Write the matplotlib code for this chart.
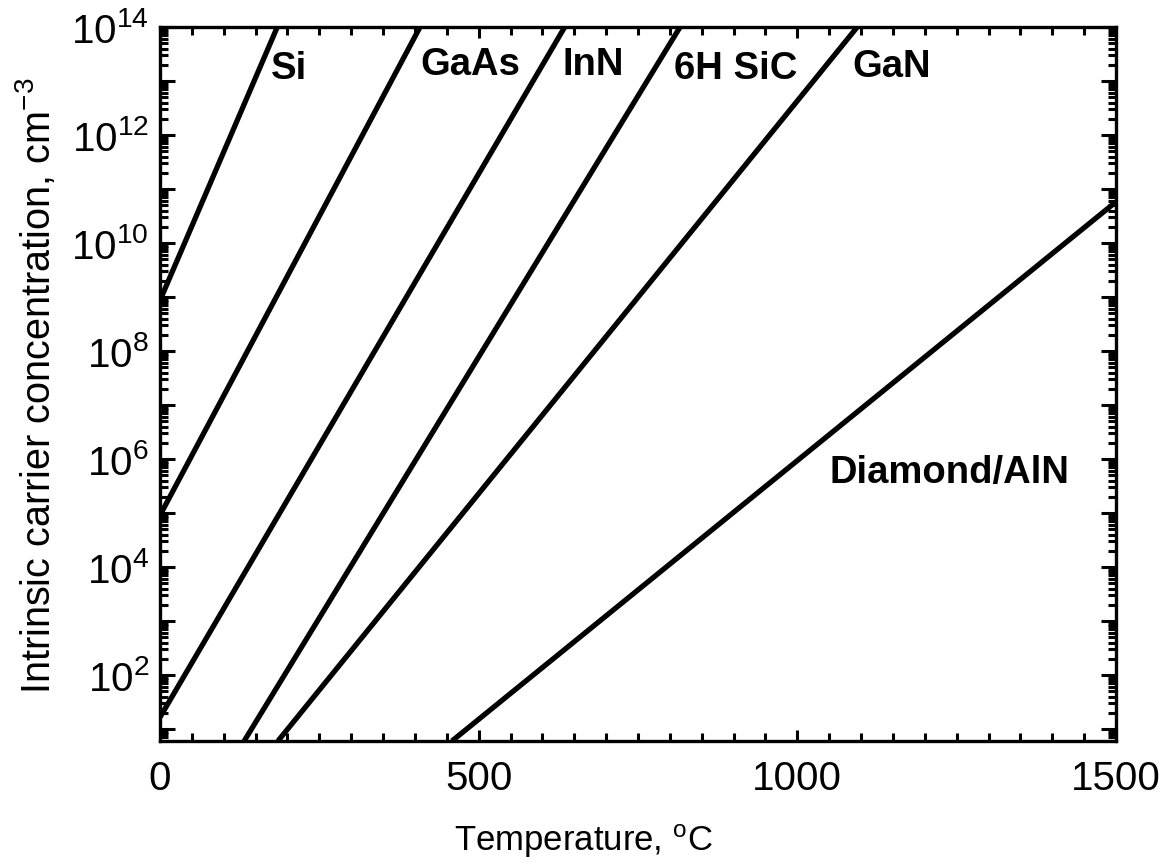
import math
import matplotlib
matplotlib.use("Agg")
import matplotlib.pyplot as plt
from matplotlib.ticker import LogLocator, FixedLocator, MultipleLocator, FuncFormatter

plt.rcParams["font.family"] = ["Liberation Sans", "DejaVu Sans"]
plt.rcParams["mathtext.fontset"] = "custom"
plt.rcParams["mathtext.rm"] = "Liberation Sans"
plt.rcParams["mathtext.it"] = "Liberation Sans"

# line end points (temperature in C, carrier conc. in cm^-3)
materials = ["Si", "GaAs", "InN", "6H SiC", "GaN", "Diamond/AlN"]
t_start = [0, 0, 0, 132, 185, 458]
t_end = [184, 408, 635, 816, 1094, 1500]
n_start = [8.7e8, 9.1e4, 16.6, 6.0, 6.0, 6.0]
n_end = [1e14, 1e14, 1e14, 1e14, 1e14, 5.8e10]

# where the material names sit
label_t = [174, 408, 632, 807, 1086, 1050]
label_n = [1.7e13, 2.0e13, 2.0e13, 1.7e13, 1.8e13, 5.6e5]

X_MIN, X_MAX = 0, 1500
Y_MIN, Y_MAX = 6.0, 1e14


def exp_label(v, pos):
    e = int(round(math.log10(v)))
    if e % 2 == 0 and e >= 2:
        return r"$\mathregular{10^{%d}}$" % e
    return ""


def main():
    fig = plt.figure(figsize=(11.63, 8.66), dpi=100)
    ax = fig.add_axes([0.1376, 0.1443, 0.8220, 0.8245])

    for i, name in enumerate(materials):
        ax.plot([t_start[i], t_end[i]], [n_start[i], n_end[i]],
                color="black", lw=3.8, solid_capstyle="butt")
        ax.text(label_t[i], label_n[i], name, fontsize=27.5, fontweight="bold",
                ha="left", va="center")

    ax.set_yscale("log")
    ax.set_xlim(X_MIN, X_MAX)
    ax.set_ylim(Y_MIN, Y_MAX)

    ax.xaxis.set_major_locator(FixedLocator([0, 500, 1000, 1500]))
    ax.xaxis.set_minor_locator(MultipleLocator(50))
    ax.yaxis.set_major_locator(LogLocator(base=10, numticks=30))
    ax.yaxis.set_minor_locator(LogLocator(base=10, subs=range(2, 10), numticks=30))
    ax.yaxis.set_major_formatter(FuncFormatter(exp_label))
    ax.yaxis.set_minor_formatter(FuncFormatter(lambda v, p: ""))

    ax.tick_params(which="both", direction="in", top=True, right=True, width=2.2)
    ax.tick_params(which="major", length=11, labelsize=29)
    ax.tick_params(which="minor", length=6)
    ax.tick_params(axis="x", which="major", length=8, pad=14)
    ax.tick_params(axis="y", which="major", pad=8)
    for s in ax.spines.values():
        s.set_linewidth(2.4)

    fig.text(583 / 1163, 1 - 841 / 866, r"Temperature, $\mathregular{^{o}}$C",
             fontsize=25, ha="center", va="center")
    ax.set_ylabel(r"Intrinsic carrier concentration, cm$\mathregular{^{-3}}$",
                  fontsize=28.5)
    ax.yaxis.set_label_coords(-0.107, 0.497)

    fig.savefig("out.png", dpi=100)
    plt.close(fig)


if __name__ == "__main__":
    main()
